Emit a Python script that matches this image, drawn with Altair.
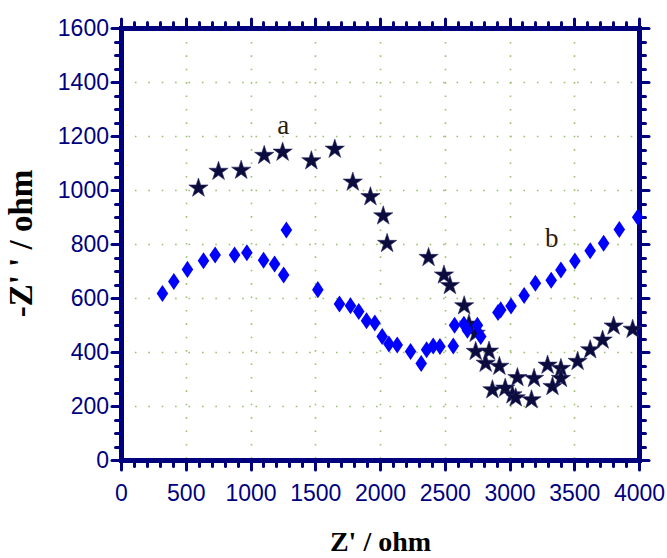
import altair as alt
import pandas as pd

# ---- data ----
star_x = [598, 753, 928, 1106, 1248, 1470, 1651, 1790, 1926, 2025, 2055, 2375, 2494, 2540,
          2650, 2687, 2739, 2739, 2842, 2816, 2922, 2868, 2967, 3061, 3023, 3048, 3190, 3170,
          3294, 3397, 3332, 3397, 3526, 3623, 3719, 3804, 3951]
star_y = [1007, 1069, 1073, 1128, 1140, 1108, 1151, 1029, 975, 904, 802, 750, 685, 646,
          571, 503, 469, 402, 403, 358, 347, 260, 266, 305, 241, 230, 302, 223,
          351, 339, 272, 302, 365, 408, 444, 496, 484]

diamond_x = [320, 408, 513, 637, 727, 877, 972, 1101, 1186, 1256, 1277, 1520, 1687, 1772,
             1836, 1896, 1960, 2017, 2069, 2133, 2236, 2318, 2360, 2411, 2463, 2566, 2576,
             2648, 2675, 2752, 2778, 2911, 2932, 3012, 3113, 3200, 3322, 3397, 3505, 3623,
             3727, 3848, 3990]
diamond_y = [617, 661, 706, 738, 759, 759, 768, 740, 726, 685, 852, 631, 578, 571,
             550, 516, 507, 457, 430, 426, 402, 357, 408, 422, 420, 422, 499,
             503, 481, 499, 457, 546, 556, 570, 609, 655, 666, 704, 737, 775,
             803, 854, 899]

label_text = ["a", "b"]
label_x = [1253, 3327]
label_y = [1207, 789]

x_ticks = list(range(0, 4001, 100))   # labelled every 500
y_ticks = list(range(0, 1601, 50))    # labelled every 200
X_MAJOR = 500
Y_MAJOR = 200

# ---- styling ----
NAVY = "#00007f"
GRID = "#9cc06e"
LABEL_FONT = "Liberation Sans Narrow, Arial Narrow, Liberation Sans, sans-serif"
TITLE_FONT = "Liberation Serif, Times New Roman, serif"
STAR = ("M0,-1L0.2245,-0.309L0.951,-0.309L0.363,0.118L0.588,0.809L0,0.382"
        "L-0.588,0.809L-0.363,0.118L-0.951,-0.309L-0.2245,-0.309Z")
DIAMOND = "M0,-1L0.68,0L0,1L-0.68,0Z"

W, H = 518, 432

xs = alt.Scale(domain=[0, 4000], nice=False, zero=False)
ys = alt.Scale(domain=[0, 1600], nice=False, zero=False)


def frame_axis(orient, values, major, labels, title="", grid=False, pad=4, **kw):
    test = f"datum.value % {major} === 0"
    extra = {}
    if labels:
        extra["labelExpr"] = f"{test} ? '' + datum.value : ''"
    return alt.Axis(
        orient=orient, values=values, labels=labels, title=title, grid=grid,
        gridColor=GRID, gridDash=[1.6, 11.8], gridWidth=1.6,
        gridOpacity={"condition": {"test": test, "value": 1}, "value": 0},
        domain=True, domainColor=NAVY, domainWidth=5, domainCap="square",
        ticks=True, tickColor=NAVY, tickCap="round",
        tickSize={"condition": {"test": test, "value": 9.5}, "value": 6},
        tickWidth={"condition": {"test": test, "value": 3}, "value": 3},
        labelFont=LABEL_FONT, labelFontSize=23, labelColor=NAVY,
        labelPadding=pad, labelFlush=False, labelOverlap=False, labelBound=False,
        titleFont=TITLE_FONT, titleFontWeight="bold", titleColor="black",
        **extra, **kw)


stars_df = pd.DataFrame({"x": star_x, "y": star_y})
diam_df = pd.DataFrame({"x": diamond_x, "y": diamond_y})
lab_df = pd.DataFrame({"x": label_x, "y": label_y, "t": label_text})

stars = alt.Chart(stars_df).mark_point(
    shape=STAR, filled=True, fill="#0b0b3e", stroke="#2a2a66", strokeWidth=0.6,
    size=410, opacity=1
).encode(
    x=alt.X("x:Q", scale=xs,
            axis=frame_axis("bottom", x_ticks, X_MAJOR, True, title="Z' / ohm", grid=True,
                            pad=13, titleFontSize=28, titleX=259, titleY=90,
                            titleBaseline="alphabetic", titleAlign="center")),
    y=alt.Y("y:Q", scale=ys,
            axis=frame_axis("left", y_ticks, Y_MAJOR, True, title="-Z' ' / ohm", grid=True,
                            pad=3, titleFontSize=33, titleX=-90, titleY=215,
                            titleAngle=270, titleBaseline="alphabetic",
                            titleAlign="center")),
)

diamonds = alt.Chart(diam_df).mark_point(
    shape=DIAMOND, filled=True, fill="#0000ff", strokeWidth=0, size=290, opacity=1
).encode(
    x=alt.X("x:Q", scale=xs, axis=None),
    y=alt.Y("y:Q", scale=ys, axis=None),
)

texts = alt.Chart(lab_df).mark_text(
    font=TITLE_FONT, fontSize=27, color="#2a1e0e", baseline="alphabetic", align="center"
).encode(
    x=alt.X("x:Q", scale=xs, axis=frame_axis("top", x_ticks, X_MAJOR, False)),
    y=alt.Y("y:Q", scale=ys, axis=frame_axis("right", y_ticks, Y_MAJOR, False)),
    text="t:N",
)

chart = alt.layer(stars, diamonds, texts).resolve_axis(
    x="independent", y="independent"
).properties(
    width=W, height=H,
    autosize=alt.AutoSizeParams(type="none"),
    padding={"left": 121, "top": 28, "right": 28, "bottom": 98},
    background="white",
).configure_view(stroke=None)

chart.save("out.html", embed_options={"renderer": "svg", "actions": False})
